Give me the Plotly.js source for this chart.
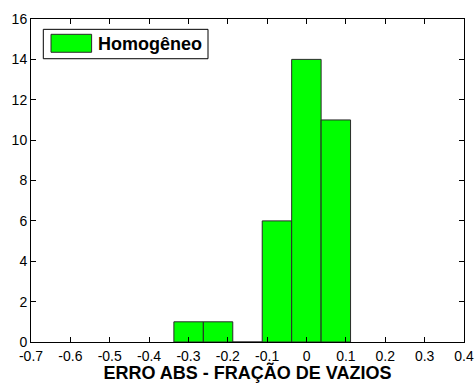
<!DOCTYPE html>
<html>
<head>
<meta charset="utf-8">
<script src="https://cdn.plot.ly/plotly-3.0.1.min.js"></script>
<style>html,body{margin:0;padding:0;background:#fff;}#chart{width:476px;height:383px;}</style>
</head>
<body>
<div id="chart"></div>
<script>
// Histogram bins (centers), counts and bin width
const binCenters = [-0.2996, -0.2248, -0.1500, -0.0752, -0.0004, 0.0744];
const counts = [1, 1, 0, 6, 14, 11];
const binWidth = 0.0748;
const seriesName = 'Homogêneo';
const xTickVals = [-0.7, -0.6, -0.5, -0.4, -0.3, -0.2, -0.1, 0, 0.1, 0.2, 0.3, 0.4];
const xTickText = ['-0.7', '-0.6', '-0.5', '-0.4', '-0.3', '-0.2', '-0.1', '0', '0.1', '0.2', '0.3', '0.4'];
const yTickVals = [0, 2, 4, 6, 8, 10, 12, 14, 16];
const yTickText = ['0', '2', '4', '6', '8', '10', '12', '14', '16'];
const xTitle = 'ERRO ABS - FRAÇÃO DE VAZIOS';

const trace = {
  type: 'bar',
  x: binCenters,
  y: counts,
  width: binCenters.map(() => binWidth),
  name: seriesName,
  marker: { color: '#00ff00', line: { color: '#2a2a2a', width: 1 } },
  showlegend: false,
  hoverinfo: 'x+y'
};

const font = { family: 'Liberation Sans, Arial, sans-serif', size: 14, color: '#000' };

const layout = {
  width: 476, height: 383,
  margin: { l: 31, r: 12, t: 19, b: 41, pad: 0 },
  paper_bgcolor: '#fff', plot_bgcolor: '#fff',
  font: font,
  bargap: 0,
  xaxis: {
    range: [-0.7, 0.4], tickmode: 'array', tickvals: xTickVals, ticktext: xTickText,
    ticks: 'inside', ticklen: 5, tickcolor: '#000', tickwidth: 1,
    showline: true, linecolor: '#000', linewidth: 1, mirror: 'ticks',
    showgrid: false, zeroline: false,
    tickfont: font, ticklabelstandoff: 1,
    title: { text: xTitle, font: { family: 'Liberation Sans, Arial, sans-serif', size: 18, color: '#000', weight: 'bold' }, standoff: 2 }
  },
  yaxis: {
    range: [0, 16], tickmode: 'array', tickvals: yTickVals, ticktext: yTickText,
    ticks: 'inside', ticklen: 5, tickcolor: '#000', tickwidth: 1,
    showline: true, linecolor: '#000', linewidth: 1, mirror: 'ticks',
    showgrid: false, zeroline: false,
    tickfont: font
  },
  showlegend: false,
  shapes: [
    { type: 'rect', xref: 'paper', yref: 'paper', x0: 0.0284, x1: 0.4088, y0: 0.877, y1: 0.968,
      line: { color: '#000', width: 1 }, fillcolor: '#fff' },
    { type: 'rect', xref: 'paper', yref: 'paper', x0: 0.0462, x1: 0.140, y0: 0.897, y1: 0.9526,
      line: { color: '#2a2a2a', width: 1 }, fillcolor: '#00ff00' }
  ],
  annotations: [
    { xref: 'paper', yref: 'paper', x: 0.1494, y: 0.9226, xanchor: 'left', yanchor: 'middle',
      text: '<b>' + seriesName + '</b>', showarrow: false,
      font: { family: 'Liberation Sans, Arial, sans-serif', size: 18, color: '#000' } }
  ]
};

Plotly.newPlot('chart', [trace], layout, { staticPlot: true, displayModeBar: false });
</script>
</body>
</html>
